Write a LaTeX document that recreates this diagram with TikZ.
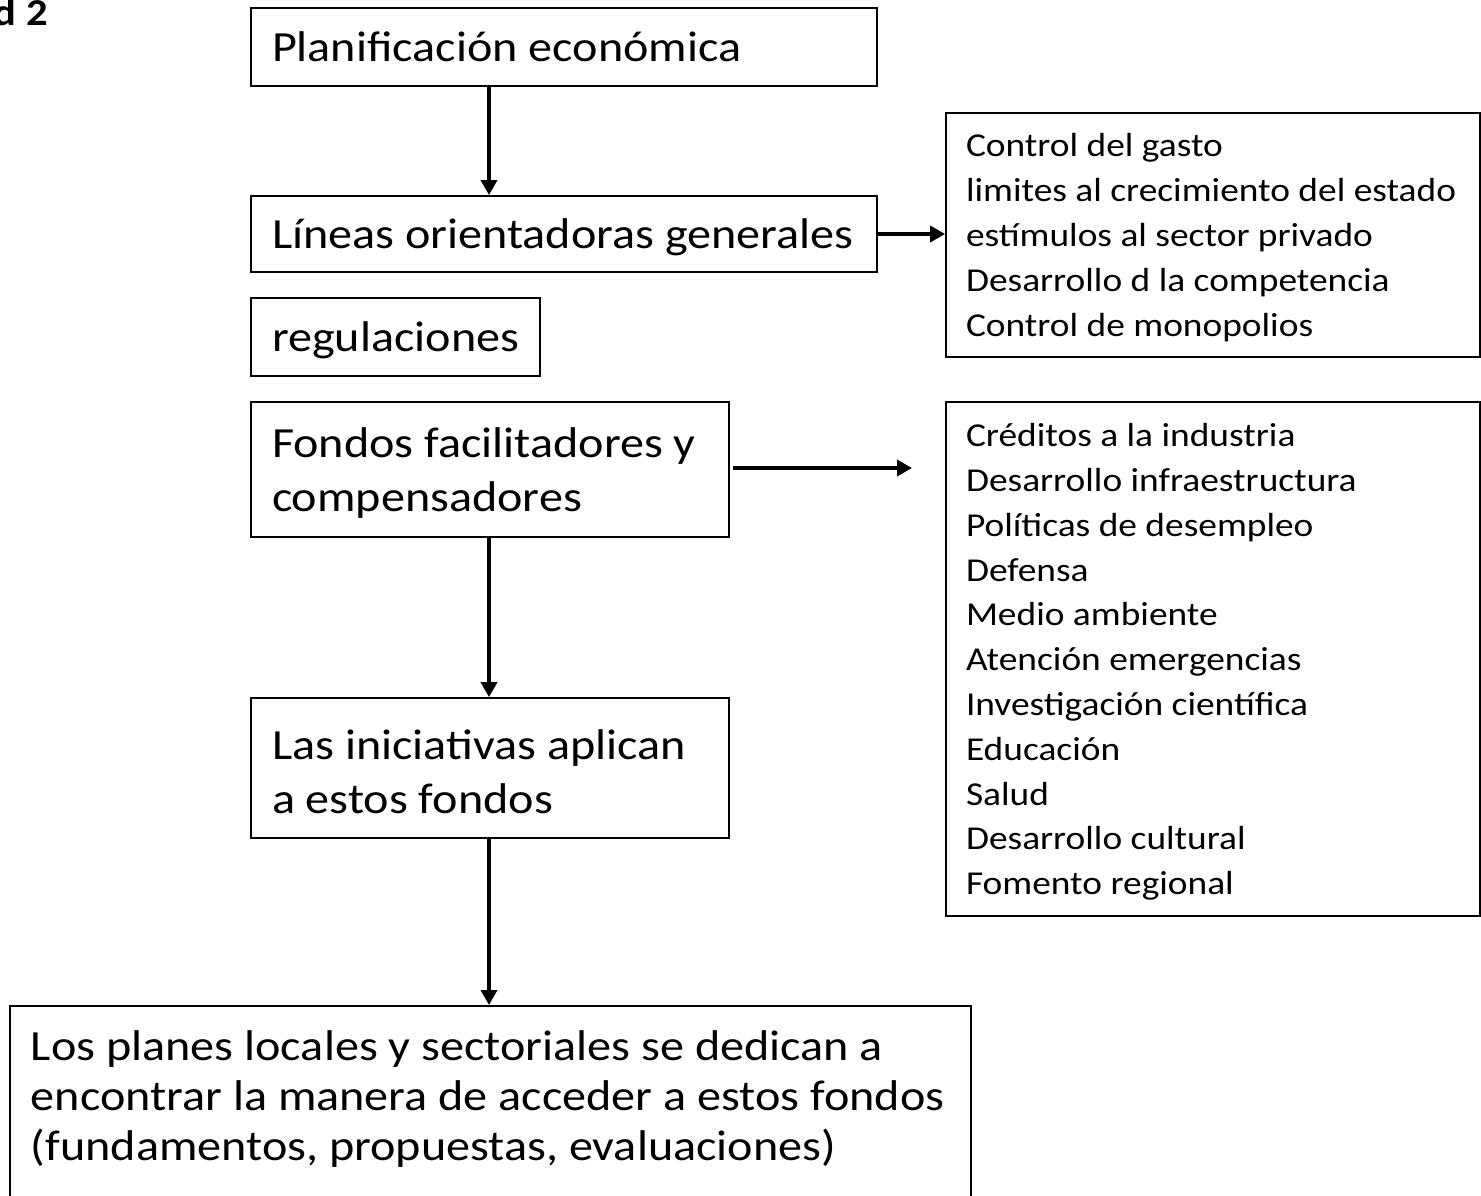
\documentclass[tikz,border=0pt]{standalone}
\usepackage{fontspec}
\setmainfont{Carlito}
\newfontfamily\wide{Carlito}[FakeStretch=1.12]
\newcommand\nsp{\spaceskip=0pt\xspaceskip=0pt\relax}
\newcommand\tailkern[1]{\par\kern#1\relax}
\usetikzlibrary{arrows.meta}
\begin{document}
\begin{tikzpicture}[x=1pt,y=-1pt,
  box/.style={draw=black, line width=1.8pt, inner xsep=0pt, inner ysep=0pt, align=left,
    font=\wide\fontsize{43}{54}\selectfont, execute at begin node=\nsp,
    execute at end node={\tailkern{-8pt}}},
  listbox/.style={draw=black, line width=1.8pt, inner xsep=0pt, inner ysep=0pt, align=left,
    execute at begin node=\nsp, execute at end node={\tailkern{-6pt}}},
  arr/.style={line width=3.5pt, -{Triangle[length=15pt,width=16pt]}}
]
\useasboundingbox (0,0) rectangle (1481,1195);
\node[font=\wide\fontsize{38}{44}\selectfont\bfseries, anchor=base east, inner sep=0pt] (ttl) at (48,25) {d 2};

\node[box, minimum width=626pt, minimum height=78pt, text width=584pt] (b1) at (564,47) {Planificación económica};
\node[box, minimum width=626pt, minimum height=76pt, text width=584pt] (b2) at (564,234) {Líneas orientadoras generales};
\node[box, minimum width=289pt, minimum height=78pt, text width=247pt] (b3) at (395.5,337) {regulaciones};
\node[box, minimum width=478pt, minimum height=135pt, text width=436pt] (b4) at (490,469.5) {Fondos facilitadores y\\compensadores};
\node[box, minimum width=478pt, minimum height=140pt, text width=436pt] (b5) at (490,768) {Las iniciativas aplican\\a estos fondos};

\node[listbox, minimum width=534pt, minimum height=244pt, text width=494pt,
  font=\wide\fontsize{33.4}{45}\selectfont] (r1) at (1213,235)
  {Control del gasto\\limites al crecimiento del estado\\estímulos al sector privado\\Desarrollo d la competencia\\Control de monopolios};
\node[listbox, minimum width=534pt, minimum height=514pt, text width=494pt,
  font=\wide\fontsize{33.4}{44.8}\selectfont] (r2) at (1213,659)
  {Créditos a la industria\\Desarrollo infraestructura\\Políticas de desempleo\\Defensa\\Medio ambiente\\Atención emergencias\\Investigación científica\\Educación\\Salud\\Desarrollo cultural\\Fomento regional};

\node[draw=black, line width=1.8pt, inner sep=0pt, anchor=north west] (b6) at (9,1005)
  {\parbox[t][230pt][t]{961pt}{\wide\fontsize{43}{50}\selectfont\leftskip=21pt\parindent=0pt
   \rule{0pt}{55pt}Los planes locales y sectoriales se dedican a\\encontrar la manera de acceder a estos fondos\\(fundamentos, propuestas, evaluaciones)}};

\coordinate (ax) at (489,0);
\coordinate (f1) at (733,468);
\coordinate (f2) at (912,468);

\draw[arr] (b1.south -| ax) -- (b2.north -| ax);
\draw[arr] (b2.east) -- (b2.east -| r1.west);
\draw[arr] (f1) -- (f2);
\draw[arr] (b4.south -| ax) -- (b5.north -| ax);
\draw[arr] (b5.south -| ax) -- (b6.north -| ax);
\end{tikzpicture}
\end{document}
